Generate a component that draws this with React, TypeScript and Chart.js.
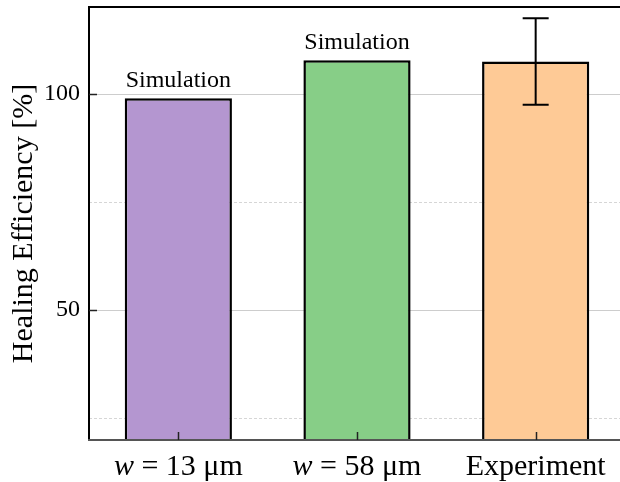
import React, { useEffect, useRef } from "react";
import { Chart, registerables } from "chart.js";

Chart.register(...registerables);

// Healing efficiency per case
const categories = ["w = 13 μm", "w = 58 μm", "Experiment"];
const efficiency = [98.9, 107.7, 107.4];
const efficiencyError = [0, 0, 10];
const barNotes = ["Simulation", "Simulation", ""];
const barColors = ["#B496D0", "#87CE87", "#FECA96"];
const majorTicks = [50, 100];
const minorTicks = [25, 75];
const yMin = 20;
const yMax = 120;

const SERIF = "'Liberation Serif', 'Times New Roman', serif";

const decorations = {
  id: "decorations",
  beforeDatasetsDraw(chart: any) {
    const { ctx, chartArea: a, scales } = chart;
    const y = scales.y;
    ctx.save();
    ctx.lineWidth = 1;
    ctx.strokeStyle = "#cdcdcd";
    ctx.setLineDash([]);
    for (const v of majorTicks) {
      const py = Math.round(y.getPixelForValue(v)) + 0.5;
      ctx.beginPath();
      ctx.moveTo(a.left, py);
      ctx.lineTo(a.right, py);
      ctx.stroke();
    }
    ctx.strokeStyle = "#d6d6d6";
    ctx.setLineDash([3, 2]);
    for (const v of minorTicks) {
      const py = Math.round(y.getPixelForValue(v)) + 0.5;
      ctx.beginPath();
      ctx.moveTo(a.left, py);
      ctx.lineTo(a.right, py);
      ctx.stroke();
    }
    ctx.restore();
  },
  afterDatasetsDraw(chart: any) {
    const { ctx, chartArea: a, scales } = chart;
    const y = scales.y;
    const bars = chart.getDatasetMeta(0).data;
    ctx.save();

    // error bars
    ctx.strokeStyle = "#000";
    ctx.lineWidth = 2;
    bars.forEach((bar: any, i: number) => {
      const err = efficiencyError[i];
      if (!err) return;
      const top = y.getPixelForValue(efficiency[i] + err);
      const bot = y.getPixelForValue(efficiency[i] - err);
      ctx.beginPath();
      ctx.moveTo(bar.x, top);
      ctx.lineTo(bar.x, bot);
      ctx.moveTo(bar.x - 13, top);
      ctx.lineTo(bar.x + 13, top);
      ctx.moveTo(bar.x - 13, bot);
      ctx.lineTo(bar.x + 13, bot);
      ctx.stroke();
    });

    // notes above bars
    ctx.fillStyle = "#000";
    ctx.font = `24px ${SERIF}`;
    ctx.textAlign = "center";
    ctx.textBaseline = "alphabetic";
    bars.forEach((bar: any, i: number) => {
      if (barNotes[i]) ctx.fillText(barNotes[i], bar.x, bar.y - 11);
    });

    // frame
    ctx.lineWidth = 2;
    ctx.strokeStyle = "#000";
    ctx.beginPath();
    ctx.moveTo(a.left, a.bottom);
    ctx.lineTo(a.left, a.top);
    ctx.lineTo(a.right, a.top);
    ctx.lineTo(a.right, a.bottom);
    ctx.stroke();
    ctx.strokeStyle = "#555";
    ctx.beginPath();
    ctx.moveTo(a.left - 1, a.bottom);
    ctx.lineTo(a.right + 1, a.bottom);
    ctx.stroke();

    // inward ticks
    ctx.lineWidth = 1.5;
    ctx.strokeStyle = "#222";
    for (const v of majorTicks) {
      const py = Math.round(y.getPixelForValue(v)) + 0.5;
      ctx.beginPath();
      ctx.moveTo(a.left, py);
      ctx.lineTo(a.left + 8, py);
      ctx.stroke();
    }
    bars.forEach((bar: any) => {
      const px = Math.round(bar.x) + 0.5;
      ctx.beginPath();
      ctx.moveTo(px, a.bottom);
      ctx.lineTo(px, a.bottom - 8);
      ctx.stroke();
    });

    // category labels, with the leading variable in italics
    const base = a.bottom + 35;
    ctx.textAlign = "left";
    ctx.fillStyle = "#000";
    categories.forEach((label, i) => {
      const cx = scales.x.getPixelForValue(i);
      const italic = label.startsWith("w ") ? "w" : "";
      const rest = italic ? label.slice(1) : label;
      ctx.font = `italic 30px ${SERIF}`;
      const wi = italic ? ctx.measureText(italic).width : 0;
      ctx.font = `30px ${SERIF}`;
      const wr = ctx.measureText(rest).width;
      let x = cx - (wi + wr) / 2;
      if (italic) {
        ctx.font = `italic 30px ${SERIF}`;
        ctx.fillText(italic, x, base);
        x += wi;
      }
      ctx.font = `30px ${SERIF}`;
      ctx.fillText(rest, x, base);
    });
    ctx.restore();
  },
};

export default function App() {
  const canvasRef = useRef<HTMLCanvasElement | null>(null);

  useEffect(() => {
    const canvas = canvasRef.current;
    if (!canvas) return;
    const chart = new Chart(canvas, {
      type: "bar",
      data: {
        labels: categories,
        datasets: [
          {
            data: efficiency,
            backgroundColor: barColors,
            borderColor: "#000",
            borderWidth: 2.5,
            borderSkipped: false,
            barPercentage: 0.6,
            categoryPercentage: 1,
          },
        ],
      },
      options: {
        animation: false,
        responsive: false,
        layout: { padding: { left: 0, top: 7, right: 15, bottom: 0 } },
        plugins: {
          legend: { display: false },
          tooltip: { enabled: false },
        },
        scales: {
          x: {
            grid: { display: false, drawTicks: false },
            border: { display: false },
            ticks: { display: false },
            afterFit: (s: any) => {
              s.height = 42;
            },
          },
          y: {
            min: yMin,
            max: yMax,
            grid: { display: false, drawTicks: false },
            border: { display: false },
            afterBuildTicks: (s: any) => {
              s.ticks = majorTicks.map((v) => ({ value: v }));
            },
            ticks: {
              padding: 9,
              color: "#000",
              font: { family: SERIF, size: 24 },
            },
            title: {
              display: true,
              text: "Healing Efficiency [%]",
              color: "#000",
              font: { family: SERIF, size: 30 },
              padding: { top: 6, bottom: 0 },
            },
            afterFit: (s: any) => {
              s.width = 89;
              s.paddingTop = 0;
              s.paddingBottom = 0;
            },
          },
        },
      },
      plugins: [decorations],
    } as any);
    return () => chart.destroy();
  }, []);

  return (
    <div
      style={{
        position: "fixed",
        left: 0,
        top: 0,
        width: 620,
        height: 482,
        overflow: "hidden",
        background: "#fff",
      }}
    >
      <canvas ref={canvasRef} width={640} height={482} style={{ display: "block" }} />
    </div>
  );
}
